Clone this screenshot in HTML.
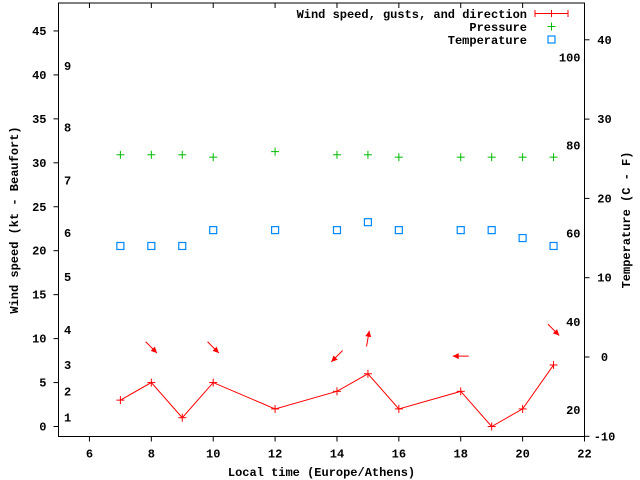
<!DOCTYPE html>
<html><head><meta charset="utf-8"><style>
body{margin:0;background:#fff}
svg{display:block}
text{font-family:"Liberation Mono","DejaVu Sans Mono",monospace;font-size:12px;font-weight:bold;fill:#000}
</style></head><body>
<svg id="c" width="640" height="480" xmlns="http://www.w3.org/2000/svg"></svg>
<script>
const hours=[7,8,9,10,12,14,15,16,18,19,20,21];
const windKt=[3,5,1,5,2,4,6,2,4,0,2,7];
const pressure=[25.5,25.5,25.5,25.2,25.9,25.5,25.5,25.2,25.2,25.2,25.2,25.2];
const tempC=[14,14,14,16,16,16,17,16,16,16,15,14];
const arrowHours=[8,10,14,15,18,21];
const arrowKt=[9,9,8,10,8,11];
const arrowDir=[135,135,225,10,270,135];
const xTicks=[6,8,10,12,14,16,18,20,22];
const yTicks=[0,5,10,15,20,25,30,35,40,45];
const cTicks=[-10,0,10,20,30,40];
const fTicks=[20,40,60,80,100];
const bft=[1,2,3,4,5,6,7,8,9];
const bftKt=[1,4,7,11,17,22,28,34,41];

const L=58.5,R=584.5,T=3,B=436.5;
const X=h=>L+(h-5)/(22-5)*(R-L);
const Y=k=>426.5-k*8.79;
const YC=c=>357-c*7.93;
const svg=document.getElementById('c');
const NS='http://www.w3.org/2000/svg';
function mk(t,a,p){const e=document.createElementNS(NS,t);for(const k in a)e.setAttribute(k,a[k]);(p||svg).appendChild(e);return e;}
function txt(x,y,s,anch,extra){const e=mk('text',Object.assign({x:x,y:y,'text-anchor':anch||'middle'},extra||{}));e.textContent=s;return e;}

let fr=mk('rect',{x:L,y:T,width:R-L,height:B-T,fill:'none',stroke:'#000','stroke-width':1});



xTicks.forEach(h=>{
 let t=mk('line',{x1:X(h),x2:X(h),y1:B,y2:B+5,stroke:'#000'});
 
 
 mk('line',{x1:X(h),x2:X(h),y1:T,y2:T+5,stroke:'#000'});
 let l=txt(X(h),B+21,String(h));
 
 
});
yTicks.forEach(v=>{
 let t=mk('line',{x1:L-5,x2:L,y1:Y(v),y2:Y(v),stroke:'#000'});
 
 
 let l=txt(L-12,Y(v)+4,String(v),'end');
 
 
});
cTicks.forEach(v=>{
 let t=mk('line',{x1:R,x2:R+5,y1:YC(v),y2:YC(v),stroke:'#000'});
 
 
 let l=txt(R+20,YC(v)+4,String(v),'middle');
 
 
});
fTicks.forEach(v=>{
 let l=txt(R-4,YC((v-32)*5/9)+4,String(v),'end');
 
 
});
bft.forEach((b,i)=>{
 let l=txt(64,Y(bftKt[i])+4,String(b),'start');
 
 
});

let pts=hours.map((h,i)=>X(h)+','+Y(windKt[i])).join(' ');
let pl=mk('polyline',{points:pts,fill:'none',stroke:'#f00','stroke-width':1});


function plus(x,y,c,n){const g=mk('g',{stroke:c,'stroke-width':1});
 
 
 mk('line',{x1:x-4,x2:x+4,y1:y,y2:y},g);mk('line',{x1:x,x2:x,y1:y-4,y2:y+4},g);}
hours.forEach((h,i)=>plus(X(h),Y(windKt[i]),'#f00','wind-point'));
hours.forEach((h,i)=>plus(X(h),YC(pressure[i]),'#0b0','pressure-point'));
hours.forEach((h,i)=>{
 let r=mk('rect',{x:X(h)-3.5,y:YC(tempC[i])-3.5,width:7,height:7,fill:'none',stroke:'#08f','stroke-width':1.2});
 
 
});
arrowHours.forEach((h,i)=>{
 const cx=X(h),cy=Y(arrowKt[i]),a=arrowDir[i]*Math.PI/180;
 const dx=Math.sin(a),dy=-Math.cos(a),len=8;
 const x1=cx-dx*len,y1=cy-dy*len,x2=cx+dx*len,y2=cy+dy*len;
 const g=mk('g',{});
 
 
 mk('line',{x1:x1,y1:y1,x2:x2,y2:y2,stroke:'#f00'},g);
 const px=-dy,py=dx;
 mk('polygon',{points:`${x2},${y2} ${x2-dx*6+px*3},${y2-dy*6+py*3} ${x2-dx*6-px*3},${y2-dy*6-py*3}`,fill:'#f00'},g);
});

let t1=txt(527,18,'Wind speed, gusts, and direction','end');

mk('line',{x1:535,x2:568,y1:13.5,y2:13.5,stroke:'#f00'});
mk('line',{x1:535,x2:535,y1:10,y2:17,stroke:'#f00'});
mk('line',{x1:568,x2:568,y1:10,y2:17,stroke:'#f00'});
mk('line',{x1:551.5,x2:551.5,y1:10,y2:17,stroke:'#f00'});
let t2=txt(527,31,'Pressure','end');

plus(551.5,26.5,'#0b0','legend-pressure-marker');
let t3=txt(527,44,'Temperature','end');

mk('rect',{x:548,y:36,width:7,height:7,fill:'none',stroke:'#08f','stroke-width':1.2});

let xt=txt((L+R)/2,476,'Local time (Europe/Athens)');

let yt=txt(0,0,'Wind speed (kt - Beaufort)','middle',{transform:'translate(18,220) rotate(-90)'});

let y2=txt(0,0,'Temperature (C - F)','middle',{transform:'translate(630,220) rotate(-90)'});

</script>
</body></html>
